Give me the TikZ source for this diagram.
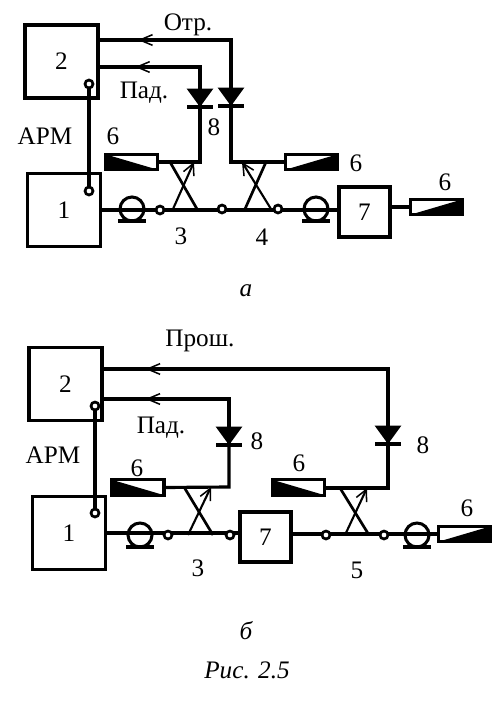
\documentclass[tikz,border=0pt]{standalone}
\usepackage{fontspec}
\setmainfont{Liberation Serif}
\usepackage{xcolor}
\usetikzlibrary{arrows.meta,positioning,shapes.geometric,calc,backgrounds,decorations.markings}

\begin{document}
\begin{tikzpicture}[
  x=0.03cm,
  y=-0.03cm,
  block/.style={
    draw,
    line width=3pt,
    outer sep=0pt,
    inner sep=0pt,
    minimum width=2.2cm,
    minimum height=2.2cm,
    font=\fontsize{21.5}{24}\selectfont
  },
  smallblock/.style={
    block,
    line width=2.6pt,
    minimum width=1.53cm,
    minimum height=1.5cm
  },
  atten/.style={
    draw,
    line width=2.6pt,
    outer sep=0pt,
    inner sep=0pt,
    minimum width=1.56cm,
    minimum height=0.46cm
  },
  isolator/.style={
    circle,
    draw,
    line width=2.6pt,
    outer sep=0pt,
    inner sep=0pt,
    minimum size=0.72cm
  },
  port/.style={
    circle,
    draw,
    fill=white,
    line width=2.3pt,
    outer sep=0pt,
    inner sep=0pt,
    minimum size=0.24cm
  },
  diode/.style={
    isosceles triangle,
    isosceles triangle apex angle=72,
    shape border rotate=-90,
    fill=black,
    outer sep=0pt,
    inner sep=0pt,
    minimum height=0.55cm,
    minimum width=0.78cm,
    anchor=apex
  },
  wire/.style={line width=2.7pt},
  bar/.style={line width=2.7pt},
  armline/.style={line width=2.8pt},
  crossline/.style={line width=2.3pt},
  crossarrow/.style={line width=1.8pt, -{Straight Barb[length=3.4mm, width=3.4mm, line width=1.3pt]}},
  tipped/.style={postaction=decorate, decoration={markings,
    mark=at position #1 with {\arrow{Straight Barb[length=3.8mm, width=3.2mm, line width=1.3pt]}}}},
  label/.style={font=\fontsize{21.5}{24}\selectfont, inner sep=0pt},
  caption/.style={font=\fontsize{21.5}{24}\selectfont\itshape, inner sep=0pt}
]
\useasboundingbox (0,0) rectangle (495,705);

\node[block] (twoa) at (61.5,61.5) {2};
\node[block] (onea) at (64,210) {1};
\node[smallblock] (sevena) at (364.5,212) {7};
\node[atten] (attleft) at (131.5,162) {};
\node[atten] (attmid) at (311.5,162) {};
\node[atten] (attright) at (436.5,207) {};
\node[isolator] (isoa) at (132,209) {};
\node[isolator] (isob) at (316,209) {};
\node[port] (armtopa) at (89,84) {};
\node[port] (armbota) at (89,191) {};
\node[port] (porta) at (160,210) {};
\node[port] (portb) at (222,209) {};
\node[port] (portc) at (278,209) {};
\node[diode] (dioa) at (200,107) {};
\node[diode] (diob) at (231,106) {};
\coordinate (falla) at (200,67);
\coordinate (refla) at (231,40);
\coordinate (couplea) at (200,162);
\coordinate (coupleb) at (231,162);

\begin{scope}[on background layer]
\draw[armline] (armtopa) -- (armbota);
\draw[wire] (onea.east) -- (sevena.west |- onea.east);
\draw[wire] (sevena.east |- attright.west) -- (attright.west);
\draw[wire] (attleft.east) -- (couplea) -- (dioa.apex);
\draw[wire] (attmid.west) -- (coupleb) -- (diob.apex);
\draw[wire,tipped=0.80] (diob.apex) -- (refla) -- (refla -| twoa.east);
\draw[wire,tipped=0.74] (dioa.apex) -- (falla) -- (falla -| twoa.east);
\end{scope}
\draw[bar] ([xshift=-0.38cm]dioa.apex) -- ([xshift=0.38cm]dioa.apex);
\draw[bar] ([xshift=-0.38cm]diob.apex) -- ([xshift=0.38cm]diob.apex);
\draw[bar] ([xshift=-0.42cm]isoa.south) -- ([xshift=0.42cm]isoa.south);
\draw[bar] ([xshift=-0.42cm]isob.south) -- ([xshift=0.42cm]isob.south);
\fill (attleft.north west) -- (attleft.south east) -- (attleft.south west) -- cycle;
\fill (attmid.north east) -- (attmid.south west) -- (attmid.south east) -- cycle;
\fill (attright.north east) -- (attright.south west) -- (attright.south east) -- cycle;

\draw[crossline] (170,162) -- (197,209);
\draw[crossarrow] (173,209) -- (194,162);
\draw[crossline] (245,209) -- (266,162);
\draw[crossarrow] (271,209) -- (242,162);

\node[label] (otr) at (188,25) {Отр.};
\node[label] (pada) at (144,93) {Пад.};
\node[label] (arma) at (45,136) {АРМ};
\node[label] (sixa) at (113,136) {6};
\node[label] (eighta) at (214,127) {8};
\node[label] (three) at (181,236) {3};
\node[label] (four) at (262,237) {4};
\node[label] (sixb) at (356,163) {6};
\node[label] (sixc) at (445,182) {6};
\node[caption] (capa) at (246,291) {а};

\node[block] (twob) at (65.5,384) {2};
\node[block] (oneb) at (69,533) {1};
\node[smallblock] (sevenb) at (265.5,537) {7};
\node[atten] (attbl) at (138,487.5) {};
\node[atten] (attbm) at (298.5,487.5) {};
\node[atten] (attbr) at (464.5,534) {};
\node[isolator] (isoc) at (140,535) {};
\node[isolator] (isod) at (417,535) {};
\node[port] (armtopb) at (95,406) {};
\node[port] (armbotb) at (95,513) {};
\node[port] (portd) at (168,535) {};
\node[port] (porte) at (230,535) {};
\node[port] (portf) at (326,535) {};
\node[port] (portg) at (384,535) {};
\node[diode] (dioc) at (229,445) {};
\node[diode] (diod) at (388,444) {};
\coordinate (fallb) at (229,399);
\coordinate (pass) at (388,369);
\coordinate (couplec) at (229,487);
\coordinate (coupled) at (388,488);

\begin{scope}[on background layer]
\draw[armline] (armtopb) -- (armbotb);
\draw[wire] (oneb.east) -- (sevenb.west |- oneb.east);
\draw[wire] (sevenb.east |- attbr.west) -- (attbr.west);
\draw[wire] (attbl.east) -- (couplec) -- (dioc.apex);
\draw[wire] (attbm.east |- coupled) -- (coupled) -- (diod.apex);
\draw[wire,tipped=0.88] (diod.apex) -- (pass) -- (pass -| twob.east);
\draw[wire,tipped=0.75] (dioc.apex) -- (fallb) -- (fallb -| twob.east);
\end{scope}
\draw[bar] ([xshift=-0.38cm]dioc.apex) -- ([xshift=0.38cm]dioc.apex);
\draw[bar] ([xshift=-0.38cm]diod.apex) -- ([xshift=0.38cm]diod.apex);
\draw[bar] ([xshift=-0.42cm]isoc.south) -- ([xshift=0.42cm]isoc.south);
\draw[bar] ([xshift=-0.42cm]isod.south) -- ([xshift=0.42cm]isod.south);
\fill (attbl.north west) -- (attbl.south east) -- (attbl.south west) -- cycle;
\fill (attbm.north west) -- (attbm.south east) -- (attbm.south west) -- cycle;
\fill (attbr.north east) -- (attbr.south west) -- (attbr.south east) -- cycle;

\draw[crossline] (184,487) -- (213,535);
\draw[crossarrow] (188,535) -- (211,487);
\draw[crossline] (340,488) -- (369,535);
\draw[crossarrow] (345,535) -- (367,488);

\node[label] (prosh) at (200,341) {Прош.};
\node[label] (padb) at (161,428) {Пад.};
\node[label] (armb) at (53,455) {АРМ};
\node[label] (sixd) at (137,468) {6};
\node[label] (eightb) at (257,441) {8};
\node[label] (sixe) at (299,463) {6};
\node[label] (eightc) at (423,445) {8};
\node[label] (threeb) at (198,568) {3};
\node[label] (five) at (357,570) {5};
\node[label] (sixf) at (467,508) {6};
\node[caption] (capb) at (246,631) {б};
\node[caption] (fig) at (247,670) {Рис. 2.5};
\end{tikzpicture}
\end{document}
